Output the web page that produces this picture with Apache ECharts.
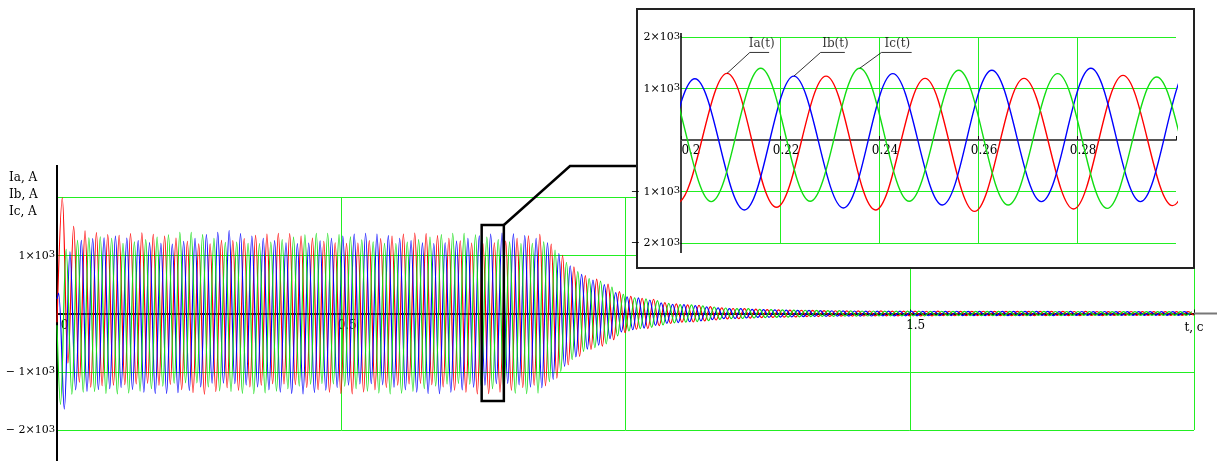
<!DOCTYPE html>
<html><head><meta charset="utf-8">
<script src="https://cdn.jsdelivr.net/npm/echarts@6/dist/echarts.min.js"></script>
<style>html,body{margin:0;padding:0;background:#fff}#c{width:1221px;height:461px}</style>
</head><body><div id="c"></div>
<script>
// ---- data: extrema (peaks / troughs) of each phase current, one every half period ----
const halfPeriod = 0.01;                       // s
const firstExtremumTime = { a: 0.0093, b: 0.0028, c: 0.0061 };
const startValues = { a: -150, b: 250, c: -200 };   // values at t = 0

const ia = [
  1985, -850, 1495, -1180, 1420, -1265, 1390, -1240, 1355, -1230,
  1340, -1222, 1372, -1210, 1385, -1198, 1360, -1231, 1330, -1215,
  1294, -1307, 1240, -1359, 1196, -1386, 1196, -1340, 1255, -1275,
  1250, -1318, 1286, -1262, 1340, -1230, 1362, -1206, 1376, -1210,
  1372, -1220, 1330, -1270, 1295, -1308, 1240, -1350, 1215, -1372,
  1205, -1380, 1210, -1348, 1250, -1310, 1286, -1270, 1330, -1230,
  1364, -1208, 1382, -1200, 1370, -1222, 1338, -1262, 1292, -1318,
  1248, -1350, 1210, -1380, 1198, -1374, 1215, -1350, 1244, -1318,
  1288, -1270, 1332, -1230, 1360, -1240, 1190, -1110, 1000, -880,
  800, -735, 650, -615, 590, -560, 505, -450, 375, -330,
  295, -270, 262, -258, 245, -210, 185, -172, 165, -150,
  148, -146, 142, -128, 118, -112, 98, -92, 86, -90,
  84, -78, 74, -71, 66, -67, 62, -63, 58, -59,
  56, -54, 53, -52, 49, -51, 47, -46, 45, -44,
  44, -43, 43, -42, 44, -41, 42, -42, 41, -40,
  40, -41, 39, -40, 40, -38, 39, -39, 38, -38,
  38, -37, 39, -36, 37, -37, 36, -37, 37, -35,
  36, -36, 35, -36, 36, -34, 35, -35, 34, -35,
  35, -34, 34, -35, 33, -34, 34, -33, 34, -33,
  33, -34, 32, -33, 33, -32, 33, -32, 31, -32
];
const ib = [
  350, -1640, 1060, -1310, 1255, -1335, 1285, -1305, 1300, -1290,
  1330, -1270, 1295, -1305, 1250, -1350, 1218, -1372, 1205, -1370,
  1190, -1359, 1240, -1320, 1288, -1261, 1353, -1196, 1392, -1196,
  1425, -1205, 1372, -1228, 1330, -1262, 1292, -1310, 1250, -1348,
  1215, -1372, 1198, -1380, 1210, -1355, 1248, -1316, 1292, -1270,
  1330, -1230, 1362, -1208, 1378, -1205, 1365, -1224, 1338, -1265,
  1292, -1310, 1250, -1350, 1212, -1375, 1202, -1378, 1215, -1350,
  1242, -1312, 1288, -1266, 1332, -1228, 1365, -1205, 1382, -1200,
  1366, -1224, 1336, -1262, 1290, -1275, 1215, -1130, 1030, -910,
  820, -745, 670, -610, 575, -545, 495, -430, 360, -315,
  285, -278, 268, -250, 232, -205, 182, -168, 158, -156,
  152, -142, 136, -126, 115, -105, 96, -88, 84, -86,
  82, -76, 72, -68, 67, -64, 63, -61, 59, -57,
  55, -55, 52, -51, 51, -49, 47, -46, 46, -45,
  43, -44, 42, -43, 42, -41, 41, -42, 40, -40,
  41, -40, 38, -39, 39, -39, 38, -37, 39, -38,
  37, -38, 36, -37, 38, -36, 36, -36, 35, -36,
  35, -35, 36, -34, 35, -35, 33, -34, 35, -34,
  34, -33, 33, -34, 34, -33, 32, -33, 33, -32,
  32, -33, 33, -31, 32, -32, 31, -32, 32, -31
];
const ic = [
  -1560, 1100, -1385, 1255, -1350, 1300, -1338, 1318, -1372, 1292,
  -1380, 1205, -1366, 1228, -1332, 1268, -1292, 1310, -1248, 1352,
  -1196, 1392, -1190, 1392, -1190, 1353, -1261, 1288, -1327, 1222,
  -1338, 1225, -1370, 1205, -1378, 1202, -1365, 1226, -1332, 1268,
  -1292, 1312, -1246, 1352, -1214, 1375, -1202, 1378, -1210, 1356,
  -1248, 1314, -1290, 1265, -1332, 1228, -1366, 1205, -1380, 1202,
  -1368, 1226, -1336, 1268, -1290, 1312, -1246, 1354, -1212, 1378,
  -1200, 1376, -1214, 1352, -1244, 1312, -1290, 1268, -1335, 1228,
  -1368, 1202, -1378, 1205, -1366, 1230, -1170, 1090, -1000, 880,
  -790, 720, -650, 600, -585, 555, -520, 455, -385, 330,
  -300, 270, -258, 252, -238, 220, -195, 175, -162, 152,
  -148, 148, -138, 132, -122, 112, -102, 94, -88, 84,
  -86, 82, -76, 72, -70, 68, -65, 62, -61, 58,
  -57, 56, -53, 53, -50, 50, -49, 48, -46, 46,
  -45, 43, -43, 43, -41, 42, -40, 41, -41, 40,
  -40, 40, -40, 38, -39, 39, -38, 38, -37, 38,
  -37, 37, -37, 36, -37, 36, -36, 36, -36, 35,
  -36, 35, -34, 35, -35, 34, -35, 34, -34, 34,
  -33, 34, -33, 33, -34, 32, -33, 33, -32, 33,
  -32, 32, -33, 31, -32, 32, -31, 32, -31, 31
];

// ---- ticks / labels ----
const mainXTickValues = [0, 0.5, 1.5];
const mainXTickLabels = ['0', '0.5', '1.5'];
const mainXName = 't, c';
const mainYTickValues = [1000, -1000, -2000];
const mainYTickLabels = ['1×10', '− 1×10', '− 2×10'];
const insetXTickValues = [0.2, 0.22, 0.24, 0.26, 0.28];
const insetXTickLabels = ['0.2', '0.22', '0.24', '0.26', '0.28'];
const insetYTickValues = [2000, 1000, -1000, -2000];
const insetYTickLabels = ['2×10', '1×10', '− 1×10', '− 2×10'];
const tickExponent = '3';
const axisTitles = ['Ia, A', 'Ib, A', 'Ic, A'];
const seriesNames = ['Ia(t)', 'Ib(t)', 'Ic(t)'];
const insetRange = [0.2, 0.3];
// annotation anchors (data units)
const legendPeakIndex = [20, 22, 23];
const legendUnderline = [[0.2139, 0.2178], [0.2282, 0.2331], [0.2405, 0.2466]];
const legendUnderlineY = 1700;
const legendLabelX = [0.2163, 0.2312, 0.2437];
const legendLabelY = 1870;
const calloutT = [0.747, 0.786];
const calloutV = [1520, -1500];

// ---- build ----
const FONT = 'DejaVu Serif';
const colors = ['#ff0000', '#0000ff', '#12dd12'];
const GREEN = '#22ee22';
const MAIN = { left: 57, top: 197, width: 1137, height: 233 };
const INSET = { left: 681, top: 37, width: 495, height: 206 };
function toPoints(vals, t0, v0) {
  const pts = [[0, v0]];
  vals.forEach((v, i) => pts.push([t0 + i * halfPeriod, v]));
  return pts;
}
const phaseData = [
  toPoints(ia, firstExtremumTime.a, startValues.a),
  toPoints(ib, firstExtremumTime.b, startValues.b),
  toPoints(ic, firstExtremumTime.c, startValues.c)
];
const phaseRaw = [ia, ib, ic];
const phaseT0 = [firstExtremumTime.a, firstExtremumTime.b, firstExtremumTime.c];

function findIdx(arr, v) { for (let i = 0; i < arr.length; i++) if (Math.abs(arr[i] - v) < 1e-7) return i; return -1; }
function yFmt(vals, labels) {
  return v => { const k = findIdx(vals, v); return k < 0 ? '' : '{b|' + labels[k] + '}{s|' + tickExponent + '}'; };
}
const yRich = {
  b: { fontFamily: FONT, fontSize: 11, color: '#000', lineHeight: 12, verticalAlign: 'bottom' },
  s: { fontFamily: FONT, fontSize: 10, color: '#000', lineHeight: 10, verticalAlign: 'top', padding: [0, 0, 12, 0] }
};

const chart = echarts.init(document.getElementById('c'), null, { renderer: 'canvas' });
const series = [];
for (let p = 0; p < 3; p++) {
  series.push({ type: 'line', xAxisIndex: 0, yAxisIndex: 0, data: phaseData[p], smooth: 0.36,
    symbol: 'none', silent: true, animation: false, z: 2,
    lineStyle: { color: colors[p], width: 1.2 } });
}
for (let p = 0; p < 3; p++) {
  series.push({ type: 'line', xAxisIndex: 1, yAxisIndex: 1, data: phaseData[p], smooth: 0.36,
    symbol: 'none', silent: true, animation: false, z: 21, clip: true,
    lineStyle: { color: colors[p], width: 1.4 } });
}
for (let p = 0; p < 3; p++) {
  const idx = legendPeakIndex[p];
  series.push({ type: 'line', xAxisIndex: 1, yAxisIndex: 1, symbol: 'none', silent: true, animation: false, z: 22,
    data: [[phaseT0[p] + idx * halfPeriod, phaseRaw[p][idx]], [legendUnderline[p][0], legendUnderlineY], [legendUnderline[p][1], legendUnderlineY]],
    lineStyle: { color: '#000', width: 0.8 } });
}
series.push({ type: 'scatter', xAxisIndex: 1, yAxisIndex: 1, symbolSize: 0, silent: true, animation: false, z: 23,
  data: seriesNames.map((n, p) => ({ name: n, value: [legendLabelX[p], legendLabelY] })),
  label: { show: true, position: 'inside', formatter: '{b}', color: '#000', fontFamily: FONT, fontSize: 12 } });

const option = {
  animation: false,
  backgroundColor: '#fff',
  grid: [
    Object.assign({}, MAIN),
    Object.assign({ z: 20 }, INSET)
  ],
  xAxis: [
    { type: 'value', gridIndex: 0, min: 0, max: 2, interval: 0.5, position: 'bottom', offset: -MAIN.height / 2,
      axisLine: { onZero: false, lineStyle: { color: '#111', width: 2 } },
      axisTick: { show: true, inside: true, length: 4, lineStyle: { color: '#111' } },
      splitLine: { show: true, showMinLine: false, lineStyle: { color: GREEN, width: 1 } },
      name: mainXName, nameLocation: 'end', nameGap: 0,
      nameTextStyle: { fontFamily: FONT, fontSize: 12, color: '#000', align: 'center', verticalAlign: 'top', padding: [8, 0, 0, 0] },
      axisLabel: { show: true, margin: 6, align: 'center', verticalAlign: 'top',
        formatter: v => { const k = findIdx(mainXTickValues, v); if (k < 0) return ''; return (v === 0 ? '{z|' : '{r|') + mainXTickLabels[k] + '}'; },
        rich: { r: { fontFamily: FONT, fontSize: 12, color: '#000', width: 31, align: 'right' },
                z: { fontFamily: FONT, fontSize: 12, color: '#000', width: 23, align: 'right' } } } },
    { type: 'value', gridIndex: 1, min: insetRange[0], max: insetRange[1], interval: 0.02, z: 20,
      position: 'bottom', offset: -INSET.height / 2,
      axisLine: { onZero: false, lineStyle: { color: '#555', width: 2 } },
      axisTick: { show: true, inside: true, length: 4, lineStyle: { color: '#111' } },
      splitLine: { show: true, showMinLine: false, showMaxLine: false, lineStyle: { color: GREEN, width: 1 } },
      axisLabel: { show: true, margin: 5, align: 'center', verticalAlign: 'top',
        formatter: v => { const k = findIdx(insetXTickValues, v); return k < 0 ? '' : '{r|' + insetXTickLabels[k] + '}'; },
        rich: { r: { fontFamily: FONT, fontSize: 12, color: '#000', width: 39, align: 'right' } } } }
  ],
  yAxis: [
    { type: 'value', gridIndex: 0, min: -2000, max: 2000, interval: 1000,
      axisLine: { show: true, onZero: false, lineStyle: { color: '#000', width: 2 } },
      axisTick: { show: false },
      splitLine: { show: true, lineStyle: { color: GREEN, width: 1 } },
      axisLabel: { margin: 2, formatter: yFmt(mainYTickValues, mainYTickLabels), rich: yRich } },
    { type: 'value', gridIndex: 1, min: -2000, max: 2000, interval: 1000, z: 20,
      axisLine: { show: true, onZero: false, lineStyle: { color: '#000', width: 1.5 } },
      axisTick: { show: false },
      splitLine: { show: true, lineStyle: { color: GREEN, width: 1 } },
      axisLabel: { margin: 1, formatter: yFmt(insetYTickValues, insetYTickLabels), rich: yRich } }
  ],
  series: series
};
chart.setOption(option);

// decorations positioned from the axes
const px = (g, p) => chart.convertToPixel({ gridIndex: g }, p);
const o = px(0, [0, 0]);
const xEnd = px(0, [2, 0]);
const yTop = px(0, [0, 2000]);
const yBot = px(0, [0, -2000]);
const r0 = px(0, [calloutT[0], calloutV[0]]);
const r1 = px(0, [calloutT[1], calloutV[1]]);
const iBot = px(1, [insetRange[0], -2000]);
const iTop = px(1, [insetRange[0], 2000]);
const insetBox = { x: 637, y: 9, width: 557, height: 259 };
const elbow = [570, 166];
const graphic = [];
axisTitles.forEach((t, k) => graphic.push({ type: 'text', left: 9, top: 172 + k * 17, z: 5,
  style: { text: t, fontFamily: FONT, fontSize: 12, fill: '#000' } }));
graphic.push({ type: 'line', z: 3, shape: { x1: o[0], y1: 165, x2: o[0], y2: yTop[1] }, style: { stroke: '#000', lineWidth: 2 } });
graphic.push({ type: 'line', z: 3, shape: { x1: o[0], y1: yBot[1], x2: o[0], y2: 461 }, style: { stroke: '#000', lineWidth: 2 } });
graphic.push({ type: 'line', z: 3, shape: { x1: xEnd[0], y1: o[1], x2: 1217, y2: o[1] }, style: { stroke: '#777', lineWidth: 2 } });
graphic.push({ type: 'rect', z: 5, shape: { x: r0[0], y: r0[1], width: r1[0] - r0[0], height: r1[1] - r0[1] },
  style: { fill: null, stroke: '#000', lineWidth: 2.5 } });
graphic.push({ type: 'polyline', z: 5, shape: { points: [[r1[0], r0[1]], elbow, [insetBox.x, elbow[1]]] },
  style: { fill: null, stroke: '#000', lineWidth: 2.5 } });
graphic.push({ type: 'rect', z: 10, shape: insetBox, style: { fill: '#fff', stroke: '#222', lineWidth: 2 } });
graphic.push({ type: 'line', z: 24, shape: { x1: iBot[0], y1: iBot[1], x2: iBot[0], y2: iBot[1] + 10 }, style: { stroke: '#000', lineWidth: 1.5 } });
graphic.push({ type: 'line', z: 24, shape: { x1: iTop[0], y1: iTop[1] - 4, x2: iTop[0], y2: iTop[1] }, style: { stroke: '#000', lineWidth: 1.5 } });
chart.setOption({ graphic: graphic });
</script>
</body></html>
